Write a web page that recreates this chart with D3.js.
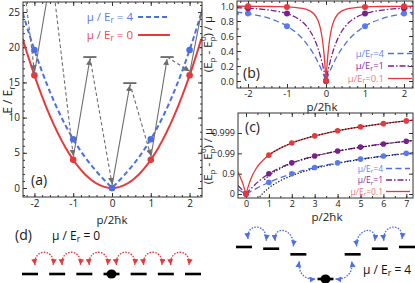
<!DOCTYPE html>
<html>
<head>
<meta charset="utf-8">
<script src="https://cdn.jsdelivr.net/npm/d3@7"></script>
<style>
  body { margin: 0; background: #fff; }
  svg { display: block; font-family: "Open Sans", sans-serif; }
</style>
</head>
<body>
<svg id="fig" width="415" height="283"></svg>
<script>
// ---------- panel (a): E / Er vs p/2hk ----------
var aP = [-2.3,-2.2,-2.1,-2,-1.9,-1.8,-1.7,-1.6,-1.5,-1.4,-1.3,-1.2,-1.1,-1,-0.9,-0.8,-0.7,-0.6,-0.5,-0.4,-0.3,-0.2,-0.1,0,
          0.1,0.2,0.3,0.4,0.5,0.6,0.7,0.8,0.9,1,1.1,1.2,1.3,1.4,1.5,1.6,1.7,1.8,1.9,2,2.1,2.2,2.3];
var aFree = [21.16,19.36,17.64,16,14.44,12.96,11.56,10.24,9,7.84,6.76,5.76,4.84,4,3.24,2.56,1.96,1.44,1,0.64,0.36,0.16,0.04,0,
             0.04,0.16,0.36,0.64,1,1.44,1.96,2.56,3.24,4,4.84,5.76,6.76,7.84,9,10.24,11.56,12.96,14.44,16,17.64,19.36,21.16];
var aBog = [24.84,23.02,21.27,19.6,18,16.48,15.04,13.67,12.37,11.14,9.99,8.9,7.88,6.93,6.03,5.2,4.42,3.69,3,2.35,1.73,1.14,0.57,0,
            0.57,1.14,1.73,2.35,3,3.69,4.42,5.2,6.03,6.93,7.88,8.9,9.99,11.14,12.37,13.67,15.04,16.48,18,19.6,21.27,23.02,24.84];
var aDotP = [-2, -1, 0, 1, 2];
var aDotFree = [16, 4, 0, 4, 16];
var aDotBog = [19.6, 6.93, 0, 6.93, 19.6];
// intermediate levels
var aLevelP = [-0.57, 0.46, 1.42];
var aLevelE = [18.6, 14.9, 18.6];
// transitions [p0, E0, p1, E1, head]
var aUp = [[0, 0.3, 0.46, 14.6, 1], [-1, 4.3, -0.57, 18.3, 1], [1, 4.3, 1.42, 18.3, 1],
           [-2, 16.3, -1.6, 29.3, 0], [2, 16.3, 2.4, 27.7, 0]];
var aDown = [[0.46, 14.9, 1, 4.6], [-0.57, 18.6, 0, 0.6], [1.42, 18.6, 2, 16.6],
             [-1.5, 28, -1, 4.6], [-2.25, 28, -2, 16.6]];

// ---------- panel (b): (Ep - Ep0)/mu vs p ----------
var bP = [-2.3,-2,-1.8,-1.6,-1.4,-1.2,-1,-0.8,-0.6,-0.5,-0.4,-0.3,-0.2,-0.15,-0.1,-0.05,-0.02,0,
          0.02,0.05,0.1,0.15,0.2,0.3,0.4,0.5,0.6,0.8,1,1.2,1.4,1.6,1.8,2,2.3];
var bMu4 = [0.92,0.899,0.88,0.857,0.826,0.786,0.732,0.66,0.562,0.5,0.428,0.344,0.246,0.191,0.132,0.068,0.028,0,
            0.028,0.068,0.132,0.191,0.246,0.344,0.428,0.5,0.562,0.66,0.732,0.786,0.826,0.857,0.88,0.899,0.92];
var bMu1 = [0.977,0.971,0.964,0.955,0.943,0.926,0.899,0.857,0.786,0.732,0.66,0.562,0.428,0.344,0.246,0.132,0.055,0,
            0.055,0.132,0.246,0.344,0.428,0.562,0.66,0.732,0.786,0.857,0.899,0.926,0.943,0.955,0.964,0.971,0.977];
var bMu01 = [0.9976,0.9969,0.9961,0.9951,0.9937,0.9915,0.988,0.981,0.968,0.954,0.932,0.89,0.8,0.716,0.58,0.358,0.164,0,
             0.164,0.358,0.58,0.716,0.8,0.89,0.932,0.954,0.968,0.981,0.988,0.9915,0.9937,0.9951,0.9961,0.9969,0.9976];
var bDotP = [-2, -1, 0, 1, 2];
var bDotMu4 = [0.899, 0.732, 0, 0.732, 0.899];
var bDotMu1 = [0.971, 0.899, 0, 0.899, 0.971];
var bDotMu01 = [0.997, 0.988, 0, 0.988, 0.997];

// ---------- panel (c): same quantity, shown as 1 - value on a log axis ----------
var cP = [-0.35,-0.3,-0.2,-0.15,-0.1,-0.05,-0.02,0,0.02,0.05,0.1,0.15,0.2,0.3,0.4,0.5,0.6,0.8,1,1.2,1.5,2,2.5,3,4,5,6,7,7.3];
var cGapMu4 = [0.613,0.656,0.754,0.809,0.868,0.932,0.972,1,0.972,0.932,0.868,0.809,0.754,0.656,0.572,0.5,0.438,0.34,
               0.268,0.214,0.158,0.101,0.0693,0.05,0.0294,0.0192,0.0135,0.01,0.0092];
var cGapMu1 = [0.385,0.438,0.572,0.656,0.754,0.868,0.945,1,0.945,0.868,0.754,0.656,0.572,0.438,0.34,0.268,0.214,0.143,
               0.101,0.074,0.05,0.0294,0.0192,0.0135,0.0077,0.00495,0.00345,0.00254,0.00234];
var cGapMu01 = [0.085,0.11,0.2,0.284,0.42,0.642,0.836,1,0.836,0.642,0.42,0.284,0.2,0.11,0.068,0.0455,0.0325,0.0188,
                0.0122,0.0085,0.0055,0.0031,0.002,0.00139,0.00078,0.0005,0.000347,0.000255,0.000235];
var cDotP = [0, 1, 2, 3, 4, 5, 6, 7];
var cDotMu4 = [1, 0.268, 0.101, 0.05, 0.0294, 0.0192, 0.0135, 0.01];
var cDotMu1 = [1, 0.101, 0.0294, 0.0135, 0.0077, 0.00495, 0.00345, 0.00254];
var cDotMu01 = [1, 0.0122, 0.0031, 0.00139, 0.00078, 0.0005, 0.000347, 0.000255];
// large-p approximations (black dotted)
var cAsymP4 = [0.6, 0.75, 1, 1.5, 2, 3, 4, 5, 6, 7, 7.3];
var cAsym4 = [1.389, 0.889, 0.5, 0.222, 0.125, 0.0556, 0.03125, 0.02, 0.0139, 0.0102, 0.0094];
var cAsymP1 = [0.8, 1, 1.5, 2, 3, 4, 5, 6, 7, 7.3];
var cAsym1 = [0.195, 0.125, 0.0556, 0.03125, 0.0139, 0.0078, 0.005, 0.00347, 0.00255, 0.00235];
var cAsymP01 = [0.9, 1, 1.5, 2, 3, 4, 5, 6, 7, 7.3];
var cAsym01 = [0.0154, 0.0125, 0.00556, 0.003125, 0.00139, 0.00078, 0.0005, 0.000347, 0.000255, 0.000235];
var cTickGap = [1, 0.1, 0.01, 0.001];
var cTickLabel = ["0", "0.9", "0.99", "0.999"];

// ---------- panel (d): momentum ladders ----------
var dIndex = [-3, -2, -1, 0, 1, 2, 3];
var dShift0 = [0, 0, 0, 0, 0, 0, 0];
var dShift4 = [0.95, 0.899, 0.732, 0, 0.732, 0.899, 0.95];

var RED = "#e5393b", BLUE = "#4d6fe6", PURPLE = "#7b1f8c", GRAY = "#6e6e6e";

var svg = d3.select("#fig");
var defs = svg.append("defs");

function marker(id, color, size, orient) {
  defs.append("marker").attr("id", id)
    .attr("viewBox", "0 0 10 10").attr("refX", 10).attr("refY", 5)
    .attr("markerUnits", "userSpaceOnUse")
    .attr("markerWidth", size).attr("markerHeight", size)
    .attr("orient", orient)
    .append("path").attr("d", "M0,0L10,5L0,10z").attr("fill", color);
}
marker("hGray", GRAY, 6, "auto");
marker("hRed", RED, 6, "auto-start-reverse");
marker("hBlue", BLUE, 6, "auto-start-reverse");

function panel(left, top, w, h, x, y, xs, ys) {
  var g = svg.append("g").attr("transform", "translate(" + left + "," + top + ")");
  var id = "clip" + left + "_" + top;
  defs.append("clipPath").attr("id", id).append("rect").attr("width", w).attr("height", h);

  g.append("g").attr("transform", "translate(0," + h + ")")
    .call(d3.axisBottom(x).tickValues(xs.minor).tickSize(-2).tickFormat(""));
  g.append("g").call(d3.axisTop(x).tickValues(xs.minor).tickSize(-2).tickFormat(""));
  g.append("g").attr("transform", "translate(0," + h + ")")
    .call(d3.axisBottom(x).tickValues(xs.major).tickSize(-4).tickPadding(xs.pad || 3).tickFormat(xs.fmt));
  g.append("g").call(d3.axisTop(x).tickValues(xs.major).tickSize(-4).tickFormat(""));

  if (ys.minor) {
    g.append("g").call(d3.axisLeft(y).tickValues(ys.minor).tickSize(-2).tickFormat(""));
    g.append("g").attr("transform", "translate(" + w + ",0)")
      .call(d3.axisRight(y).tickValues(ys.minor).tickSize(-2).tickFormat(""));
  }
  g.append("g").call(d3.axisLeft(y).tickValues(ys.major).tickSize(-4).tickPadding(3).tickFormat(ys.fmt));
  g.append("g").attr("transform", "translate(" + w + ",0)")
    .call(d3.axisRight(y).tickValues(ys.major).tickSize(-4).tickFormat(""));

  g.selectAll(".domain").remove();
  g.selectAll("g").attr("font-family", null).attr("font-size", null);
  g.selectAll(".tick line").attr("stroke", "#333");
  g.selectAll(".tick text").attr("fill", "#222").style("font-size", (ys.font || 10) + "px");

  var plot = g.append("g").attr("clip-path", "url(#" + id + ")");
  var top2 = g.append("g");
  g.append("rect").attr("width", w).attr("height", h)
    .attr("fill", "none").attr("stroke", "#333").attr("stroke-width", 1);
  return { g: top2, plot: plot };
}

function curve(plot, x, y, ps, vs, color, width, dash, kind) {
  plot.append("path")
    .datum(d3.zip(ps, vs))
    .attr("d", d3.line().x(d => x(d[0])).y(d => y(d[1])).curve(kind || d3.curveMonotoneX))
    .attr("fill", "none").attr("stroke", color).attr("stroke-width", width)
    .attr("stroke-dasharray", dash);
}

function dots(plot, x, y, ps, vs, color, r) {
  plot.selectAll(null).data(d3.zip(ps, vs)).join("circle")
    .attr("cx", d => x(d[0])).attr("cy", d => y(d[1])).attr("r", r).attr("fill", color);
}

// "(Ep - Ep0) / mu" rotated label
function gapLabel(cx, cy) {
  var t = svg.append("text").attr("transform", "translate(" + cx + "," + cy + ") rotate(-90)")
    .attr("text-anchor", "middle").style("font-size", "11.5px").attr("fill", "#222");
  t.append("tspan").text("(E");
  t.append("tspan").attr("dy", 3).style("font-size", "8px").text("p");
  t.append("tspan").attr("dy", -3).text(" - E");
  t.append("tspan").attr("dy", 3).style("font-size", "8px").text("p");
  t.append("tspan").attr("dx", -4.6).attr("dy", -9.5).style("font-size", "8px").text("0");
  t.append("tspan").attr("dy", 6.5).text(") / μ");
}

function muLabel(sel, x, y, txt, color, size, anchor) {
  var t = sel.append("text").attr("x", x).attr("y", y).attr("fill", color)
    .attr("text-anchor", anchor || "start").style("font-size", size + "px");
  t.append("tspan").text(txt[0]);
  t.append("tspan").attr("dy", size * 0.2).style("font-size", (size * 0.72) + "px").text("r");
  t.append("tspan").attr("dy", -size * 0.2).text(txt[1]);
  return t;
}

function pLabel(x, y) {
  svg.append("text").attr("x", x).attr("y", y).attr("text-anchor", "middle")
    .style("font-size", "11.5px").attr("fill", "#222").text("p/2ħk");
}

var plain = d => String(d);

// ===== panel (a) =====
var ax = d3.scaleLinear().domain([-2.294, 2.32]).range([0, 179]);
var ay = d3.scaleLinear().domain([-1.28, 26.42]).range([195, 0]);
var pa = panel(23, 2, 179, 195, ax, ay,
  { major: [-2, -1, 0, 1, 2], minor: d3.range(-2.2, 2.31, 0.2), fmt: plain },
  { major: [0, 5, 10, 15, 20, 25], minor: d3.range(-1, 27, 1), fmt: plain });

curve(pa.plot, ax, ay, aP, aFree, RED, 2, null, d3.curveLinear);
curve(pa.plot, ax, ay, aP, aBog, BLUE, 2, "5,3", d3.curveLinear);
dots(pa.plot, ax, ay, aDotP, aDotFree, RED, 3.3);
dots(pa.plot, ax, ay, aDotP, aDotBog, BLUE, 3.3);

pa.plot.selectAll(null).data(d3.zip(aLevelP, aLevelE)).join("line")
  .attr("x1", d => ax(d[0] - 0.17)).attr("x2", d => ax(d[0] + 0.17))
  .attr("y1", d => ay(d[1])).attr("y2", d => ay(d[1]))
  .attr("stroke", "#555").attr("stroke-width", 1.6);
pa.plot.selectAll(null).data(aUp).join("line")
  .attr("x1", d => ax(d[0])).attr("y1", d => ay(d[1]))
  .attr("x2", d => ax(d[2])).attr("y2", d => ay(d[3]))
  .attr("stroke", GRAY).attr("stroke-width", 1.1)
  .attr("marker-end", d => d[4] ? "url(#hGray)" : null);
pa.plot.selectAll(null).data(aDown).join("line")
  .attr("x1", d => ax(d[0])).attr("y1", d => ay(d[1]))
  .attr("x2", d => ax(d[2])).attr("y2", d => ay(d[3]))
  .attr("stroke", GRAY).attr("stroke-width", 1.1).attr("stroke-dasharray", "3.5,2.5")
  .attr("marker-end", "url(#hGray)");

muLabel(svg, 133, 21, ["μ / E", " = 4"], "#5a7ae8", 11.5, "end");
muLabel(svg, 133, 39, ["μ / E", " = 0"], "#e84a4a", 11.5, "end");
svg.append("line").attr("x1", 138).attr("x2", 170).attr("y1", 17).attr("y2", 17)
  .attr("stroke", BLUE).attr("stroke-width", 2).attr("stroke-dasharray", "5,3");
svg.append("line").attr("x1", 138).attr("x2", 170).attr("y1", 35).attr("y2", 35)
  .attr("stroke", RED).attr("stroke-width", 2);
svg.append("text").attr("x", 31).attr("y", 185).style("font-size", "14px").attr("fill", "#222").text("(a)");

var ey = svg.append("text").attr("transform", "translate(12,100) rotate(-90)")
  .attr("text-anchor", "middle").style("font-size", "12px").attr("fill", "#222");
ey.append("tspan").text("E / E");
ey.append("tspan").attr("dy", 3).style("font-size", "8.5px").text("r");
pLabel(112, 224);

// ===== panel (b) =====
var bx = d3.scaleLinear().domain([-2.282, 2.231]).range([0, 176]);
var by = d3.scaleLinear().domain([-0.093, 1.067]).range([87, 0]);
var pb = panel(237, 1, 176, 87, bx, by,
  { major: [-2, -1, 0, 1, 2], minor: d3.range(-2.2, 2.21, 0.2), fmt: plain, pad: 2 },
  { major: [0, 0.2, 0.4, 0.6, 0.8, 1], minor: d3.range(0, 1.01, 0.1), fmt: d3.format(".1f"), font: 9.5 });

curve(pb.plot, bx, by, bP, bMu4, BLUE, 1.3, "6,3.5");
curve(pb.plot, bx, by, bP, bMu1, PURPLE, 1.3, "6,2,1.5,2");
curve(pb.plot, bx, by, bP, bMu01, RED, 1.3, null);
dots(pb.plot, bx, by, bDotP, bDotMu4, "#5a7ae8", 3);
dots(pb.plot, bx, by, bDotP, bDotMu1, PURPLE, 3);
dots(pb.plot, bx, by, bDotP, bDotMu01, RED, 3);

function legend(rows, xEnd, x1, x2, size) {
  rows.forEach(function (r) {
    muLabel(svg, xEnd, r.y + 3, ["μ/E", "=" + r.v], r.tc, size, "end");
    svg.append("line").attr("x1", x1).attr("x2", x2).attr("y1", r.y).attr("y2", r.y)
      .attr("stroke", r.c).attr("stroke-width", 1.3).attr("stroke-dasharray", r.d);
  });
}
legend([
  { y: 53.5, v: "4", c: BLUE, tc: "#6a86ee", d: "6,3.5" },
  { y: 66, v: "1", c: PURPLE, tc: "#8e2f9f", d: "6,2,1.5,2" },
  { y: 78.5, v: "0.1", c: RED, tc: "#f07777", d: null }
], 384, 388, 412, 9.5);
svg.append("text").attr("x", 243).attr("y", 78).style("font-size", "14px").attr("fill", "#222").text("(b)");
gapLabel(212, 44);
pLabel(322, 111);

// ===== panel (c) =====
var cx = d3.scaleLinear().domain([-0.349, 7.293]).range([0, 175]);
var cy = d3.scaleLog().domain([1.57, 1.04e-4]).range([85, 0]);
var pc = panel(238, 113, 175, 85, cx, cy,
  { major: d3.range(0, 8), minor: d3.range(0, 7.3, 0.5), fmt: plain },
  { major: cTickGap, minor: null, fmt: (d, i) => cTickLabel[i], font: 9 });

curve(pc.plot, cx, cy, cP, cGapMu4, BLUE, 1.3, "6,3.5");
curve(pc.plot, cx, cy, cP, cGapMu1, PURPLE, 1.3, "6,2,1.5,2");
curve(pc.plot, cx, cy, cP, cGapMu01, RED, 1.3, null);
curve(pc.plot, cx, cy, cAsymP4, cAsym4, "#111", 1.2, "1.3,1.7");
curve(pc.plot, cx, cy, cAsymP1, cAsym1, "#111", 1.2, "1.3,1.7");
curve(pc.plot, cx, cy, cAsymP01, cAsym01, "#111", 1.2, "1.3,1.7");
dots(pc.plot, cx, cy, cDotP, cDotMu4, "#5a7ae8", 2.8);
dots(pc.plot, cx, cy, cDotP, cDotMu1, PURPLE, 2.8);
dots(pc.plot, cx, cy, cDotP, cDotMu01, RED, 2.8);

legend([
  { y: 168.5, v: "4", c: BLUE, tc: "#6a86ee", d: "6,3.5" },
  { y: 180, v: "1", c: PURPLE, tc: "#8e2f9f", d: "6,2,1.5,2" },
  { y: 191.5, v: "0.1", c: RED, tc: "#f07777", d: null }
], 383, 386, 410, 8.5);
svg.append("text").attr("x", 245).attr("y", 132).style("font-size", "14px").attr("fill", "#222").text("(c)");
gapLabel(212, 156);
pLabel(327, 221);

// ===== panel (d) =====
var dX0 = d3.scaleLinear().domain([-3, 3]).range([30, 193]);
var dX4 = d3.scaleLinear().domain([-3, 3]).range([244, 407]);
var dY0 = d3.scaleLinear().domain([0, 1]).range([274, 240.3]);
var dY4 = d3.scaleLinear().domain([0, 1]).range([279, 245.3]);

function ladder(X, Y, shifts) {
  svg.append("g").selectAll("line").data(d3.zip(dIndex, shifts)).join("line")
    .attr("x1", d => X(d[0]) - 8).attr("x2", d => X(d[0]) + 8)
    .attr("y1", d => Y(d[1])).attr("y2", d => Y(d[1]))
    .attr("stroke", "#000").attr("stroke-width", 2.6);
  svg.append("ellipse").attr("cx", X(0)).attr("cy", Y(0)).attr("rx", 5).attr("ry", 4.6).attr("fill", "#000");
}
function hop(path, color, mk) {
  svg.append("path").attr("d", path).attr("fill", "none")
    .attr("stroke", color).attr("stroke-width", 1.3).attr("stroke-dasharray", "1.6,1.3")
    .attr("marker-start", "url(#" + mk + ")").attr("marker-end", "url(#" + mk + ")");
}
function upArc(x0, y0, x1, y1) {
  return "M" + x0 + "," + y0 + "C" + (x0 - 2) + "," + (y0 - 17) + " " + (x1 + 2) + "," + (y1 - 17) + " " + x1 + "," + y1;
}

ladder(dX0, dY0, dShift0);
ladder(dX4, dY4, dShift4);

d3.range(0, 6).forEach(function (k) {
  var i = dIndex[k], j = dIndex[k + 1];
  hop(upArc(dX0(i) + 5, dY0(dShift0[k]) - 9, dX0(j) - 4, dY0(dShift0[k + 1]) - 9), RED, "hRed");
});
[0, 1, 4, 5].forEach(function (k) {
  var i = dIndex[k], j = dIndex[k + 1];
  hop(upArc(dX4(i) + 4, dY4(dShift4[k]) - 8, dX4(j) - 5, dY4(dShift4[k + 1]) - 8), BLUE, "hBlue");
});
// hops down to the condensate at p = 0
var sx = dX4(-1) + 1, sy = dY4(dShift4[2]) + 7, ex = dX4(0) - 10, ey0 = dY4(0);
hop("M" + sx + "," + sy + "C" + (sx - 2) + "," + (sy + 12) + " " + (ex - 10) + "," + (ey0 + 1) + " " + ex + "," + ey0, BLUE, "hBlue");
sx = dX4(0) + 10; sy = dY4(0); ex = dX4(1) - 1; ey0 = dY4(dShift4[4]) + 7;
hop("M" + sx + "," + sy + "C" + (sx + 10) + "," + (sy + 1) + " " + (ex + 2) + "," + (ey0 + 12) + " " + ex + "," + ey0, BLUE, "hBlue");

svg.append("text").attr("x", 15).attr("y", 240).style("font-size", "14px").attr("fill", "#222").text("(d)");
muLabel(svg, 52, 240, ["μ / E", " = 0"], "#111", 12, "start");
muLabel(svg, 363, 274, ["μ / E", " = 4"], "#111", 12, "start");
</script>
</body>
</html>
